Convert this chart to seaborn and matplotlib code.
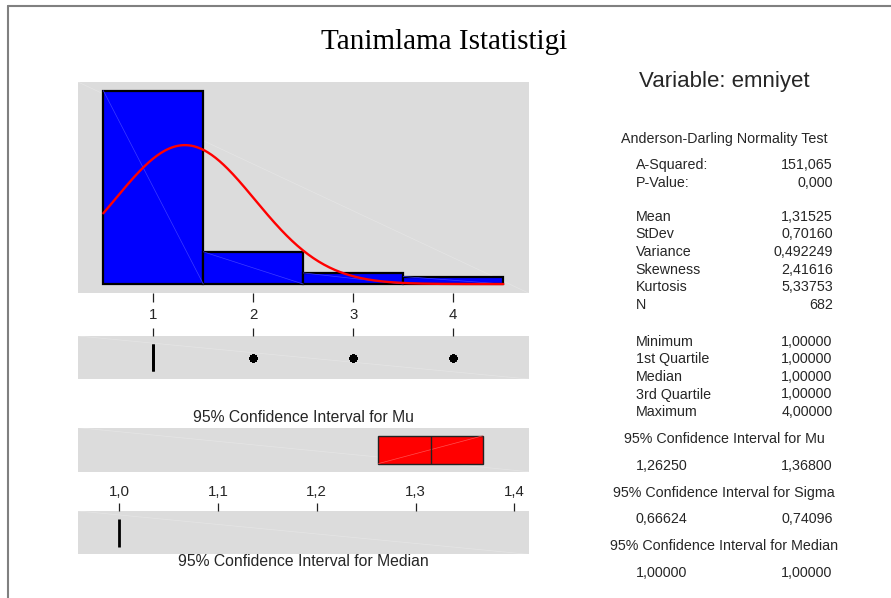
import numpy as np
import pandas as pd
import matplotlib
matplotlib.use("Agg")
import matplotlib.pyplot as plt
from matplotlib.lines import Line2D
import seaborn as sns

# ---------------- data ----------------
values = [1, 2, 3, 4]
counts = [540, 90, 31, 21]
bin_edges = [0.5, 1.5, 2.5, 3.5, 4.5]
hist_ticks = [1, 2, 3, 4]

MEAN = 1.31525
STDEV = 0.70160
N = 682
ci_mu = [1.26250, 1.36800]
ci_median = [1.00000, 1.00000]
ci_ticks = [1.0, 1.1, 1.2, 1.3, 1.4]
ci_tick_labels = ["1,0", "1,1", "1,2", "1,3", "1,4"]

title = "Tanimlama Istatistigi"
variable_label = "Variable: emniyet"
ad_header = "Anderson-Darling Normality Test"
block1_names = ["A-Squared:", "P-Value:"]
block1_vals = ["151,065", "0,000"]
block2_names = ["Mean", "StDev", "Variance", "Skewness", "Kurtosis", "N"]
block2_vals = ["1,31525", "0,70160", "0,492249", "2,41616", "5,33753", "682"]
block3_names = ["Minimum", "1st Quartile", "Median", "3rd Quartile", "Maximum"]
block3_vals = ["1,00000", "1,00000", "1,00000", "1,00000", "4,00000"]
ci_labels = ["95% Confidence Interval for Mu",
             "95% Confidence Interval for Sigma",
             "95% Confidence Interval for Median"]
ci_vals = [["1,26250", "1,36800"], ["0,66624", "0,74096"], ["1,00000", "1,00000"]]

# ---------------- setup ----------------
sns.set_style("white")
plt.rcParams["font.family"] = ["Liberation Sans", "DejaVu Sans"]

W, H = 891, 598
fig = plt.figure(figsize=(W / 100, H / 100), dpi=100)
fig.patch.set_facecolor("white")

def rect(x0, y0, x1, y1):
    return [x0 / W, 1 - y1 / H, (x1 - x0) / W, (y1 - y0) / H]

PANEL = "#dcdcdc"
DIAG = "#e5e5e5"

def base(ax):
    ax.set_facecolor(PANEL)
    for s in ax.spines.values():
        s.set_visible(False)
    ax.plot([0, 1], [1, 0], transform=ax.transAxes, color=DIAG, lw=0.5, zorder=0.5)

# ---------------- histogram ----------------
ax_h = fig.add_axes(rect(78, 82, 528.5, 293))
base(ax_h)
df = pd.DataFrame({"value": values, "count": counts})
sns.histplot(data=df, x="value", weights="count", bins=bin_edges, ax=ax_h,
             color="#0000ff", alpha=1, edgecolor="black", linewidth=1.6, zorder=2)
# faint diagonal artefacts in the bars
for v, c in zip(values, counts):
    ax_h.plot([v - 0.5, v + 0.5], [c, 0], color="#3c3cff", lw=0.5, zorder=2.5)
xs = np.linspace(bin_edges[0], bin_edges[-1], 300)
pdf = N * (bin_edges[1] - bin_edges[0]) / (STDEV * np.sqrt(2 * np.pi)) * np.exp(-0.5 * ((xs - MEAN) / STDEV) ** 2)
sns.lineplot(x=xs, y=pdf, ax=ax_h, color="#ff0000", lw=1.7, zorder=3)
ax_h.set_xlim(0.247, 4.752)
ax_h.set_ylim(-25, 564)
ax_h.set_xticks(hist_ticks)
ax_h.set_xticklabels([str(t) for t in hist_ticks], fontsize=10.8)
ax_h.set_yticks([])
ax_h.set_xlabel("")
ax_h.set_ylabel("")
ax_h.tick_params(axis="x", direction="out", length=6.3, width=0.9, color="#222222", pad=4.5, bottom=True)

# ---------------- boxplot ----------------
ax_b = fig.add_axes(rect(78, 336, 528.5, 379))
base(ax_b)
raw = np.repeat(values, counts)
sns.boxplot(x=raw, ax=ax_b, orient="h", width=0.63, color="black", linecolor="black",
            linewidth=2, whis=1.5, fliersize=4.5,
            flierprops=dict(marker="o", markerfacecolor="black", markeredgecolor="black"))
ax_b.set_xlim(0.247, 4.752)
ax_b.set_ylim(0.5, -0.5)
ax_b.set_xticks(hist_ticks)
ax_b.set_yticks([])
ax_b.tick_params(axis="x", which="both", direction="out", length=5.8, width=0.9, color="#222222",
                 top=True, bottom=False, labeltop=False, labelbottom=False)

# ---------------- CI for Mu ----------------
ax_m = fig.add_axes(rect(78, 427.7, 528.5, 471.7))
base(ax_m)
ax_m.barh([0], [ci_mu[1] - ci_mu[0]], left=[ci_mu[0]], height=0.63, color="#ff0000",
          edgecolor="#222222", linewidth=1, zorder=2)
ax_m.plot([ci_mu[0], ci_mu[1]], [-0.315, 0.315], color="#ff5050", lw=0.5, zorder=2.5)
ax_m.vlines(MEAN, -0.315, 0.315, color="#222222", lw=1, zorder=3)
ax_m.set_xlim(0.9582, 1.4144)
ax_m.set_ylim(-0.5, 0.5)
ax_m.set_yticks([])
ax_m.set_xticks(ci_ticks)
ax_m.set_xticklabels(ci_tick_labels, fontsize=10.8)
ax_m.tick_params(axis="x", direction="out", length=5.3, width=0.9, color="#222222", pad=4.2)

# ---------------- CI for Median ----------------
ax_d = fig.add_axes(rect(78, 511, 528.5, 554.3))
base(ax_d)
ax_d.vlines(ci_median[0], -0.32, 0.32, color="black", lw=2, zorder=3)
ax_d.set_xlim(0.9582, 1.4144)
ax_d.set_ylim(-0.5, 0.5)
ax_d.set_yticks([])
ax_d.set_xticks(ci_ticks)
ax_d.tick_params(axis="x", direction="out", length=5.8, width=0.9, color="#222222",
                 top=True, bottom=False, labeltop=False, labelbottom=False)

# ---------------- texts ----------------
def ftext(x, y, s, **kw):
    fig.text(x / W, 1 - y / H, s, **kw)

ftext(444, 42, title, ha="center", va="center", fontsize=21, color="black",
      family=["Liberation Serif", "DejaVu Serif"])
ftext(303, 417, ci_labels[0], ha="center", va="center", fontsize=11.3)
ftext(303, 562, ci_labels[2], ha="center", va="center", fontsize=11.3)

ftext(724.5, 82, variable_label, ha="center", va="center", fontsize=16)
ftext(724.3, 139, ad_header, ha="center", va="center", fontsize=10.3)

LX, RX = 635.7, 832.7
FS = 10.3
rows = [(165, block1_names, block1_vals), (216.7, block2_names, block2_vals),
        (341.7, block3_names, block3_vals)]
for y0, names, vals in rows:
    for i, (nm, vl) in enumerate(zip(names, vals)):
        yy = y0 + i * 17.6
        ftext(LX, yy, nm, ha="left", va="center", fontsize=FS)
        ftext(RX, yy, vl, ha="right", va="center", fontsize=FS)

for lab, vals, yl, yv in zip(ci_labels, ci_vals, [439.3, 492.7, 546], [466, 519.3, 572.7]):
    ftext(724, yl, lab, ha="center", va="center", fontsize=FS)
    ftext(LX, yv, vals[0], ha="left", va="center", fontsize=FS)
    ftext(RX, yv, vals[1], ha="right", va="center", fontsize=FS)

# ---------------- frame ----------------
fig.add_artist(Line2D([8 / W, 1], [1 - 6 / H, 1 - 6 / H], transform=fig.transFigure, color="#808080", lw=1.5))
fig.add_artist(Line2D([8 / W, 8 / W], [0, 1 - 6 / H], transform=fig.transFigure, color="#808080", lw=1.5))

fig.savefig("out.png", dpi=100)
